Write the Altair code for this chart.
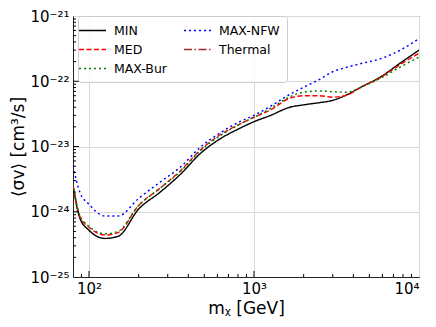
import altair as alt
import pandas as pd

# ---- data ----
mass = [80, 88, 100, 125, 150, 200, 270, 360, 470, 620, 820, 1000, 1250,
        1650, 2000, 2500, 3000, 3700, 4400, 5800, 7700, 10000]

sv_min = [2.5e-24, 8.0e-25, 5.2e-25, 3.9e-25, 4.2e-25, 1.1e-24, 2.0e-24, 3.8e-24,
          7.7e-24, 1.3e-23, 1.9e-23, 2.4e-23, 2.97e-23, 4.0e-23, 4.35e-23, 4.7e-23,
          5.1e-23, 6.3e-23, 8.0e-23, 1.15e-22, 1.9e-22, 3.0e-22]
sv_med = [2.6e-24, 8.5e-25, 5.8e-25, 4.4e-25, 4.8e-25, 1.25e-24, 2.3e-24, 4.3e-24,
          8.7e-24, 1.5e-23, 2.2e-23, 2.8e-23, 3.6e-23, 5.5e-23, 6.0e-23, 6.0e-23,
          5.7e-23, 6.2e-23, 8.0e-23, 1.13e-22, 1.8e-22, 2.7e-22]
sv_bur = [2.7e-24, 8.8e-25, 6.0e-25, 4.6e-25, 5.0e-25, 1.25e-24, 2.3e-24, 4.2e-24,
          8.5e-24, 1.45e-23, 2.2e-23, 2.8e-23, 3.8e-23, 5.8e-23, 6.8e-23, 7.1e-23,
          6.9e-23, 6.8e-23, 8.0e-23, 1.1e-22, 1.65e-22, 2.35e-22]
sv_nfw = [5.0e-24, 2.0e-24, 1.3e-24, 8.6e-25, 8.6e-25, 1.6e-24, 2.85e-24, 4.9e-24,
          9.6e-24, 1.6e-23, 2.4e-23, 3.0e-23, 4.1e-23, 6.3e-23, 8.1e-23, 1.07e-22,
          1.4e-22, 1.65e-22, 1.85e-22, 2.2e-22, 3.0e-22, 4.5e-22]
sv_thermal = [2.2e-26] * len(mass)

series_names = ["MIN", "MED", "MAX-Bur", "MAX-NFW", "Thermal"]
series_vals = [sv_min, sv_med, sv_bur, sv_nfw, sv_thermal]

colors = ["black", "red", "green", "blue", "brown"]
dashes = [[1, 0], [5, 2.5], [2, 3], [2, 3], [8, 2.5, 1.5, 2.5]]
widths = [1.4, 1.5, 2.0, 2.0, 1.5]

x_major = [100, 1000, 10000]
x_minor = [90, 200, 300, 400, 500, 600, 700, 800, 900,
           2000, 3000, 4000, 5000, 6000, 7000, 8000, 9000]
y_major = [1e-25, 1e-24, 1e-23, 1e-22, 1e-21]
y_minor = [m * 10.0 ** e for e in [-25, -24, -23, -22] for m in range(2, 10)]

rows = []
for name, vals in zip(series_names, series_vals):
    for m, v in zip(mass, vals):
        rows.append({"mass": m, "sv": v, "series": name})
df = pd.DataFrame(rows)

W, H = 346, 261
xscale = alt.Scale(type="log", domain=[80, 10000], nice=False)
yscale = alt.Scale(type="log", domain=[1e-25, 1e-21], nice=False)

x_label = ("datum.value == 100 ? '10²' : datum.value == 1000 ? '10³' : "
           "datum.value == 10000 ? '10⁴' : ''")
y_label = ("round(log(datum.value)/LN10) == -25 ? '10⁻²⁵' : "
           "round(log(datum.value)/LN10) == -24 ? '10⁻²⁴' : "
           "round(log(datum.value)/LN10) == -23 ? '10⁻²³' : "
           "round(log(datum.value)/LN10) == -22 ? '10⁻²²' : "
           "round(log(datum.value)/LN10) == -21 ? '10⁻²¹' : ''")

leg = dict(title=None, orient="none", legendX=5, legendY=0, columns=2,
           symbolType="M-2,0L2,0", symbolSize=182, symbolStrokeWidth=1.5,
           labelFontSize=12.5, labelOffset=14, columnPadding=14, rowPadding=5,
           padding=7, fillColor="rgba(255,255,255,0.8)", strokeColor="#cccccc",
           cornerRadius=3)

lines = alt.Chart(df).mark_line(clip=True, interpolate="monotone").encode(
    x=alt.X("mass:Q", scale=xscale,
            axis=alt.Axis(values=x_major, labelExpr=x_label, title="mᵪ [GeV]",
                          grid=True, ticks=False, labelPadding=4)),
    y=alt.Y("sv:Q", scale=yscale,
            axis=alt.Axis(values=y_major, labelExpr=y_label, title="⟨σv⟩ [cm³/s]",
                          grid=True, ticks=False, labelPadding=4, titlePadding=2)),
    color=alt.Color("series:N", scale=alt.Scale(domain=series_names, range=colors),
                    legend=alt.Legend(**leg)),
    strokeDash=alt.StrokeDash("series:N", scale=alt.Scale(domain=series_names, range=dashes),
                              legend=alt.Legend(**leg)),
    strokeWidth=alt.StrokeWidth("series:N", scale=alt.Scale(domain=series_names, range=widths),
                                legend=None),
)

xmaj = alt.Chart(pd.DataFrame({"m": x_major[:-1]})).mark_rule(color="black", strokeWidth=1).encode(
    x=alt.X("m:Q", scale=xscale), y=alt.value(H), y2=alt.value(H - 6))
xmin = alt.Chart(pd.DataFrame({"m": x_minor})).mark_rule(color="black", strokeWidth=1).encode(
    x=alt.X("m:Q", scale=xscale), y=alt.value(H), y2=alt.value(H - 3))
ymaj = alt.Chart(pd.DataFrame({"v": y_major[1:-1]})).mark_rule(color="black", strokeWidth=1).encode(
    y=alt.Y("v:Q", scale=yscale), x=alt.value(0), x2=alt.value(6))
ymin = alt.Chart(pd.DataFrame({"v": y_minor})).mark_rule(color="black", strokeWidth=1).encode(
    y=alt.Y("v:Q", scale=yscale), x=alt.value(0), x2=alt.value(3))

chart = alt.layer(lines, xmaj, xmin, ymaj, ymin).properties(
    width=W, height=H,
    autosize=alt.AutoSizeParams(type="none"),
    padding={"left": 65, "top": 8, "right": 9, "bottom": 42},
).configure_view(stroke="#222222", strokeWidth=1).configure_axis(
    labelFont="DejaVu Sans", titleFont="DejaVu Sans", labelFontSize=15,
    titleFontSize=17, titleFontWeight="normal", labelColor="black", titleColor="black",
    domainColor="#222222", gridColor="#d9d9d9", gridWidth=1,
).configure_legend(labelFont="DejaVu Sans", labelColor="black")

chart.save("out.html", embed_options={"renderer": "svg", "actions": False})
